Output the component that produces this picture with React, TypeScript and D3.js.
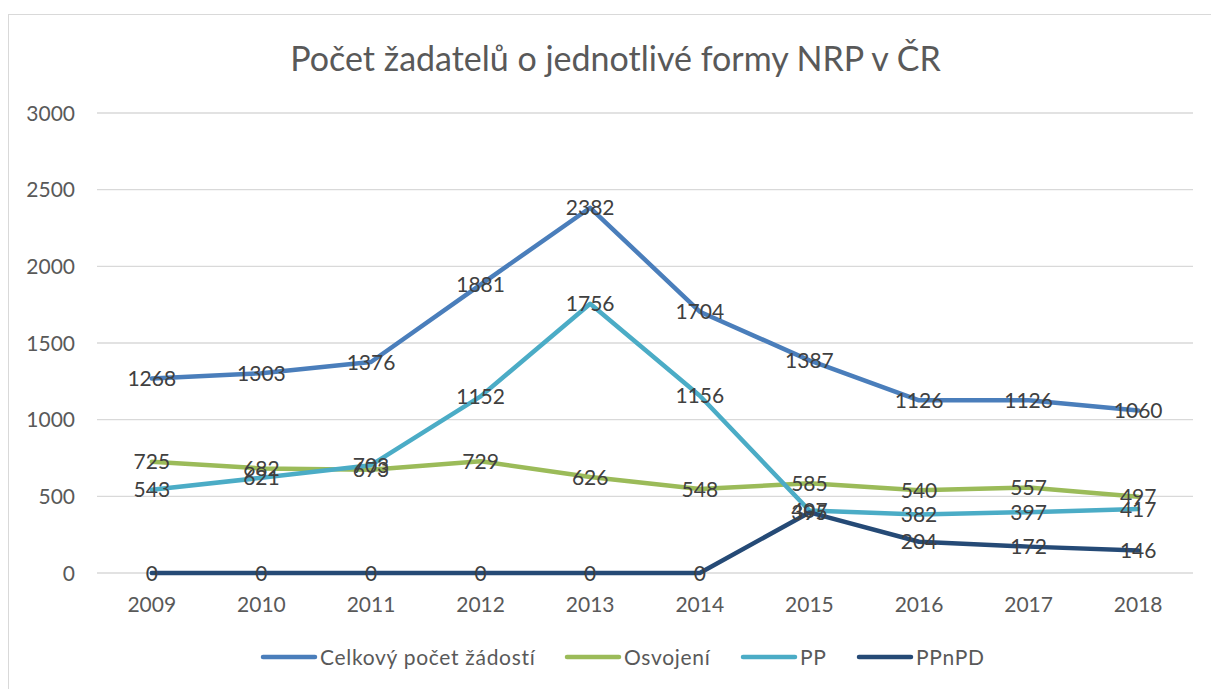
import React from "react";
import * as d3 from "d3";

const years = ["2009","2010","2011","2012","2013","2014","2015","2016","2017","2018"];
const celkovy = [1268,1303,1376,1881,2382,1704,1387,1126,1126,1060];
const osvojeni = [725,682,673,729,626,548,585,540,557,497];
const pp = [543,621,703,1152,1756,1156,407,382,397,417];
const ppnpd = [0,0,0,0,0,0,395,204,172,146];
const yTicks = [0,500,1000,1500,2000,2500,3000];

const seriesNames = ["Celkový počet žádostí","Osvojení","PP","PPnPD"];
const seriesColors = ["#4A7EBB","#9BBB59","#4BACC6","#254A76"];
const seriesValues = [celkovy, osvojeni, pp, ppnpd];

const W = 1211, H = 689;
const FONT = "Lato, 'Open Sans', sans-serif";

export default function App() {
  const x = d3.scaleBand().domain(years).range([97, 1193]);
  const y = d3.scaleLinear().domain([0, 3000]).range([573, 113]);
  const cx = (i: number) => (x(years[i]) as number) + x.bandwidth() / 2;
  const line = d3.line<number>().x((_, i) => cx(i)).y(d => y(d));
  const legendX = [261, 565, 741, 857];
  return (
    <svg width={W} height={H} style={{ position: "absolute", left: 0, top: 0 }} fontFamily={FONT}>
      <rect x={0} y={0} width={W} height={H} fill="#fff" />
      <rect x={8.5} y={14.5} width={1210} height={680} fill="#fff" stroke="#d9d9d9" strokeWidth={1} />
      <text x={615.5} y={71} textAnchor="middle" fontSize={34} fill="#595959">Počet žadatelů o jednotlivé formy NRP v ČR</text>
      {yTicks.map(t => (
        <g key={t}>
          <line x1={97} x2={1193} y1={y(t)} y2={y(t)} stroke="#d9d9d9" strokeWidth={1.3} />
          <text x={75} y={y(t)} dy="0.36em" textAnchor="end" fontSize={21} fill="#595959">{t}</text>
        </g>
      ))}
      {years.map((yr, i) => (
        <text key={yr} x={cx(i)} y={612} textAnchor="middle" fontSize={21} fill="#595959">{yr}</text>
      ))}
      {seriesValues.map((vals, s) => (
        <path key={s} d={line(vals) || ""} fill="none" stroke={seriesColors[s]} strokeWidth={4.5} strokeLinejoin="round" strokeLinecap="round" />
      ))}
      {seriesValues.map((vals, s) => vals.map((v, i) => (
        <text key={s + "-" + i} x={cx(i)} y={y(v)} dy="0.36em" textAnchor="middle" fontSize={21} fill="#404040">{v}</text>
      )))}
      {seriesNames.map((n, s) => (
        <g key={n}>
          <line x1={legendX[s] + 2} x2={legendX[s] + 54} y1={657} y2={657} stroke={seriesColors[s]} strokeWidth={4.5} strokeLinecap="round" />
          <text x={legendX[s] + 59} y={657} dy="0.36em" fontSize={21} letterSpacing={0.7} fill="#595959">{n}</text>
        </g>
      ))}
    </svg>
  );
}
